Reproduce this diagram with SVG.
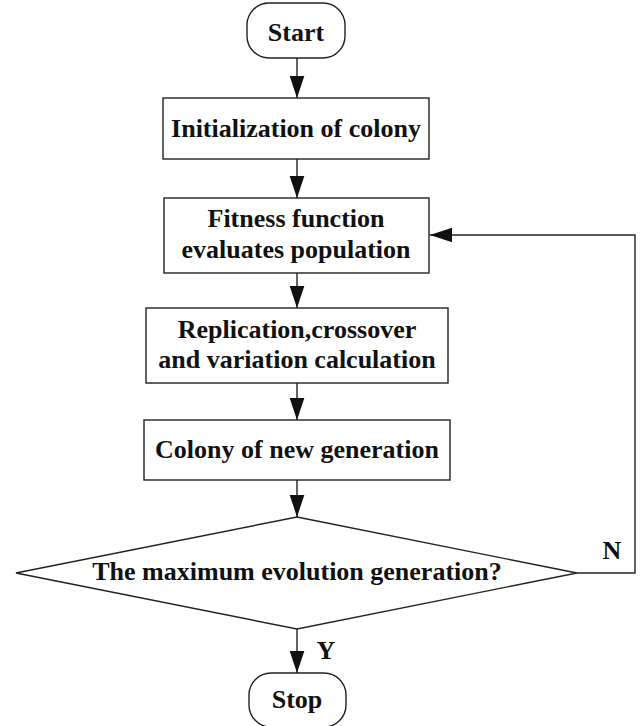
<svg xmlns="http://www.w3.org/2000/svg" width="640" height="726" viewBox="0 0 640 726">
<defs>
<marker id="arr" markerUnits="userSpaceOnUse" markerWidth="22" markerHeight="16" viewBox="0 0 21 14" refX="21" refY="7" orient="auto">
<path d="M0,0 L21,7 L0,14 Z" fill="#111"/>
</marker>
<style>
.s{fill:#fff;stroke:#222;stroke-width:1.4}
.t{font-family:"Liberation Serif","Times New Roman",serif;font-weight:bold;font-size:26px;fill:#111;text-anchor:middle}
.c{fill:none;stroke:#222;stroke-width:1.4}
</style>
</defs>
<rect width="640" height="726" fill="#fff"/>
<g id="connectors">
<line class="c" x1="297" y1="58" x2="297" y2="98" marker-end="url(#arr)"/>
<line class="c" x1="297" y1="159" x2="297" y2="198" marker-end="url(#arr)"/>
<line class="c" x1="297" y1="273" x2="297" y2="308" marker-end="url(#arr)"/>
<line class="c" x1="297" y1="383" x2="297" y2="420" marker-end="url(#arr)"/>
<line class="c" x1="297" y1="480" x2="297" y2="517" marker-end="url(#arr)"/>
<line class="c" x1="297" y1="629" x2="297" y2="673" marker-end="url(#arr)"/>
<polyline class="c" points="577,573 635,573 635,235 430,235" marker-end="url(#arr)"/>
<text class="t" x="612" y="559">N</text>
<text class="t" x="326" y="659">Y</text>
</g>
<g id="start">
<rect class="s" x="247" y="3" width="98" height="55" rx="22" ry="22"/>
<text class="t" x="296" y="41">Start</text>
</g>
<g id="init">
<rect class="s" x="163" y="98" width="266" height="61"/>
<text class="t" x="296" y="137">Initialization of colony</text>
</g>
<g id="fitness">
<rect class="s" x="164" y="198" width="265" height="75"/>
<text class="t" x="296" y="227">Fitness function</text>
<text class="t" x="296" y="258">evaluates population</text>
</g>
<g id="replication">
<rect class="s" x="146" y="308" width="302" height="75"/>
<text class="t" x="297" y="338">Replication,crossover</text>
<text class="t" x="297" y="368">and variation calculation</text>
</g>
<g id="colony">
<rect class="s" x="144" y="420" width="306" height="60"/>
<text class="t" x="297" y="458">Colony of new generation</text>
</g>
<g id="decision">
<polygon class="s" points="297,517 577,573 297,629 16,573"/>
<text class="t" x="297" y="580">The maximum evolution generation?</text>
</g>
<g id="stop">
<rect class="s" x="249" y="673" width="97" height="54" rx="22" ry="22"/>
<text class="t" x="297" y="708">Stop</text>
</g>
</svg>
